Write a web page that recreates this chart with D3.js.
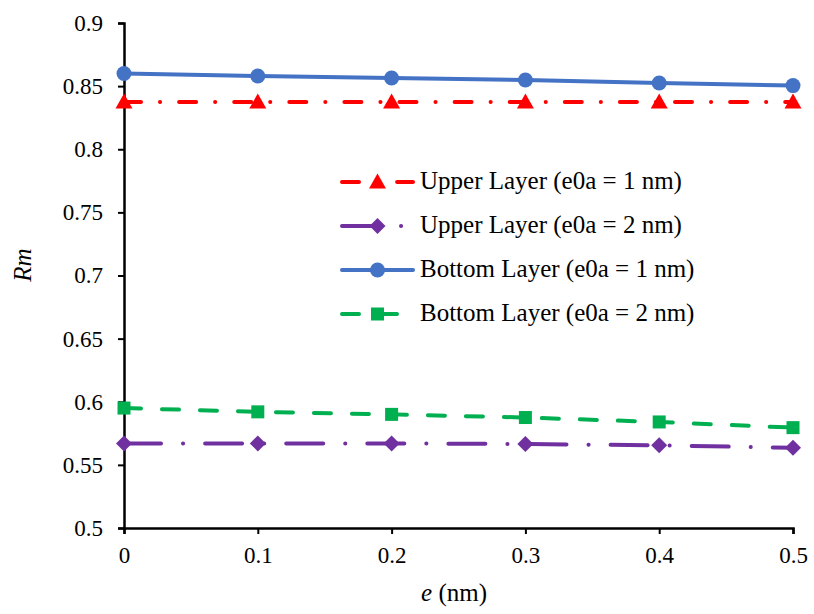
<!DOCTYPE html>
<html>
<head>
<meta charset="utf-8">
<script src="https://cdn.jsdelivr.net/npm/d3@7"></script>
<style>
  body { margin: 0; background: #fff; }
  svg { display: block; }
</style>
</head>
<body>
<svg id="chart" width="814" height="614"></svg>
<script>
// Non-local parameter e (nm)
const eValues = [0, 0.1, 0.2, 0.3, 0.4, 0.5];

// Rm for each layer / e0a combination
const upper1 = [0.8375, 0.8374, 0.8375, 0.8375, 0.8374, 0.8374];
const upper2 = [0.567, 0.567, 0.567, 0.5665, 0.5655, 0.5635];
const bottom1 = [0.860, 0.858, 0.8564, 0.8548, 0.8525, 0.8504];
const bottom2 = [0.595, 0.592, 0.590, 0.5875, 0.584, 0.5795];

const seriesNames = [
  "Upper Layer (e0a = 1 nm)",
  "Upper Layer (e0a = 2 nm)",
  "Bottom Layer (e0a = 1 nm)",
  "Bottom Layer (e0a = 2 nm)"
];

const xTicks = [0, 0.1, 0.2, 0.3, 0.4, 0.5];
const yTicks = [0.5, 0.55, 0.6, 0.65, 0.7, 0.75, 0.8, 0.85, 0.9];

const FONT = "'Liberation Serif', 'Times New Roman', serif";

const series = [
  { name: seriesNames[0], values: upper1, color: "#FF0000", dash: "17 19 0.1 19", marker: "triangle" },
  { name: seriesNames[1], values: upper2, color: "#7030A0", dash: "37 22 0.1 22", marker: "diamond" },
  { name: seriesNames[2], values: bottom1, color: "#4472C4", dash: null, marker: "circle" },
  { name: seriesNames[3], values: bottom2, color: "#00B050", dash: "17 21", marker: "square" }
];

const svg = d3.select("#chart");
const margin = { left: 124, right: 21, top: 23, bottom: 86 };
const W = 814, H = 614;

const x = d3.scaleLinear().domain([0, 0.5]).range([margin.left, W - margin.right]);
const y = d3.scaleLinear().domain([0.5, 0.9]).range([H - margin.bottom, margin.top]);

function font(sel, size) {
  return sel.style("font-family", FONT).style("font-size", size + "px").style("fill", "#000");
}

// Axes
const yAxis = d3.axisLeft(y).tickValues(yTicks).tickSize(6).tickPadding(15)
  .tickFormat(d => String(+d.toFixed(2)));
const xAxis = d3.axisBottom(x).tickValues(xTicks).tickSize(6).tickPadding(13)
  .tickFormat(d => String(+d.toFixed(1)));

const gy = svg.append("g").attr("transform", `translate(${margin.left},0)`).call(yAxis);
const gx = svg.append("g").attr("transform", `translate(0,${H - margin.bottom})`).call(xAxis);
[gx, gy].forEach(g => {
  g.select(".domain").attr("stroke", "#000").attr("stroke-width", 2.5);
  g.selectAll(".tick line").attr("stroke", "#000").attr("stroke-width", 2);
  font(g.selectAll(".tick text"), 23);
});
gy.selectAll(".tick text").attr("dy", "0.32em");
gx.selectAll(".tick text").attr("dy", "0.71em");

// Axis titles
const xt = font(svg.append("text"), 25)
  .attr("x", 454).attr("y", 601)
  .attr("text-anchor", "middle");
xt.append("tspan").style("font-style", "italic").text("e");
xt.append("tspan").text(" (nm)");

font(svg.append("text"), 25)
  .attr("transform", "translate(31,265) rotate(-90)")
  .attr("text-anchor", "middle")
  .style("font-style", "italic")
  .text("Rm");

// Marker shapes
function drawMarker(g, type, cx, cy, color) {
  if (type === "circle") {
    g.append("circle").attr("cx", cx).attr("cy", cy).attr("r", 7.5).attr("fill", color);
  } else if (type === "triangle") {
    g.append("path")
      .attr("d", `M${cx},${cy - 8.5}L${cx + 8.5},${cy + 6.5}L${cx - 8.5},${cy + 6.5}Z`)
      .attr("fill", color);
  } else if (type === "diamond") {
    g.append("path")
      .attr("d", `M${cx},${cy - 8}L${cx + 8},${cy}L${cx},${cy + 8}L${cx - 8},${cy}Z`)
      .attr("fill", color);
  } else if (type === "square") {
    g.append("rect").attr("x", cx - 6.5).attr("y", cy - 6.5)
      .attr("width", 13).attr("height", 13).attr("fill", color);
  }
}

const line = d3.line().x((d, i) => x(eValues[i])).y(d => y(d));

series.forEach(s => {
  const g = svg.append("g");
  g.append("path")
    .datum(s.values)
    .attr("d", line)
    .attr("fill", "none")
    .attr("stroke", s.color)
    .attr("stroke-width", 4)
    .attr("stroke-linecap", "round")
    .attr("stroke-dasharray", s.dash);
  s.values.forEach((v, i) => drawMarker(g, s.marker, x(eValues[i]), y(v), s.color));
});

// Legend
const legendX0 = 342, legendX1 = 413, legendY0 = 182, legendStep = 44;
series.forEach((s, i) => {
  const ly = legendY0 + i * legendStep;
  const g = svg.append("g");
  g.append("line")
    .attr("x1", legendX0).attr("x2", legendX1)
    .attr("y1", ly).attr("y2", ly)
    .attr("stroke", s.color).attr("stroke-width", 4)
    .attr("stroke-linecap", "round")
    .attr("stroke-dasharray", s.dash);
  drawMarker(g, s.marker, (legendX0 + legendX1) / 2, ly, s.color);
  font(svg.append("text"), 25)
    .attr("x", 420).attr("y", ly + 7)
    .text(s.name);
});
</script>
</body>
</html>
